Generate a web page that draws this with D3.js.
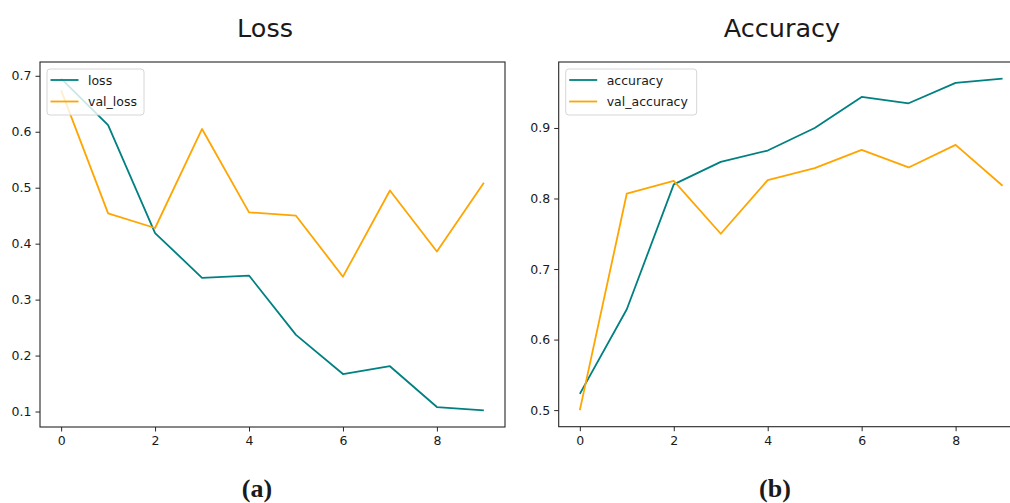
<!DOCTYPE html>
<html>
<head>
<meta charset="utf-8" />
<title>Loss / Accuracy</title>
<style>
    body { margin: 0; background: #fff; }
    svg { display: block; }
    text { font-family: "DejaVu Sans", sans-serif; fill: #1a1a1a; }
</style>
</head>
<body>
<svg width="1010" height="503"></svg>

<script src="https://cdn.jsdelivr.net/npm/d3@7"></script>
<script>

    // epochs and the four training curves
    var epochs = [0, 1, 2, 3, 4, 5, 6, 7, 8, 9];
    var loss = [0.695, 0.612, 0.419, 0.339, 0.343, 0.237, 0.167, 0.181, 0.108, 0.102];
    var valLoss = [0.674, 0.454, 0.428, 0.605, 0.456, 0.450, 0.341, 0.495, 0.386, 0.509];
    var accuracy = [0.523, 0.643, 0.820, 0.852, 0.868, 0.900, 0.944, 0.935, 0.964, 0.970];
    var valAccuracy = [0.500, 0.807, 0.825, 0.750, 0.826, 0.843, 0.869, 0.844, 0.876, 0.818];

    var xTicks = [0, 2, 4, 6, 8];
    var lossTicks = [0.1, 0.2, 0.3, 0.4, 0.5, 0.6, 0.7];
    var accTicks = [0.5, 0.6, 0.7, 0.8, 0.9];

    var svg = d3.select('svg');

    // matplotlib style 5% padding around the data
    function padded(values) {
        var ext = d3.extent(values);
        var m = (ext[1] - ext[0]) * 0.05;
        return [ext[0] - m, ext[1] + m];
    }

    function panel(opts) {
        var g = svg.append('g');

        var x = d3.scaleLinear()
            .domain(padded(epochs))
            .range([opts.left, opts.right]);
        var y = d3.scaleLinear()
            .domain(padded(opts.series[0].values.concat(opts.series[1].values)))
            .range([opts.bottom, opts.top]);

        // frame
        g.append('rect')
            .attr('x', opts.left)
            .attr('y', opts.top)
            .attr('width', opts.right - opts.left)
            .attr('height', opts.bottom - opts.top)
            .attr('fill', 'none')
            .attr('stroke', '#262626')
            .attr('stroke-width', 1.1);

        var xAxis = g.append('g')
            .attr('transform', 'translate(0,' + opts.bottom + ')')
            .call(d3.axisBottom(x).tickValues(xTicks).tickSize(4.5).tickPadding(5));
        var yAxis = g.append('g')
            .attr('transform', 'translate(' + opts.left + ',0)')
            .call(d3.axisLeft(y).tickValues(opts.ticks).tickSize(4.5).tickPadding(4)
                .tickFormat(d3.format('.1f')));

        [xAxis, yAxis].forEach(function (a) {
            a.select('.domain').remove();
            a.selectAll('line').attr('stroke', '#262626').attr('stroke-width', 1);
            a.selectAll('text')
                .style('font-family', '"DejaVu Sans", sans-serif')
                .style('font-size', '12.5px')
                .attr('fill', '#1a1a1a');
        });

        var line = d3.line()
            .x(function (d, i) { return x(epochs[i]); })
            .y(function (d) { return y(d); });

        opts.series.forEach(function (s) {
            g.append('path')
                .datum(s.values)
                .attr('d', line)
                .attr('fill', 'none')
                .attr('stroke', s.color)
                .attr('stroke-width', 1.8)
                .attr('stroke-linejoin', 'round');
        });

        // legend
        var lg = g.append('g').attr('transform', 'translate(' + (opts.left + 7) + ',' + (opts.top + 7) + ')');
        lg.append('rect')
            .attr('width', opts.legendWidth)
            .attr('height', 46)
            .attr('rx', 3)
            .attr('fill', 'rgba(255,255,255,0.8)')
            .attr('stroke', '#d6d6d6')
            .attr('stroke-width', 1);
        opts.series.forEach(function (s, i) {
            var cy = 11 + i * 21.5;
            lg.append('line')
                .attr('x1', 3.5).attr('x2', 31.5)
                .attr('y1', cy).attr('y2', cy)
                .attr('stroke', s.color)
                .attr('stroke-width', 1.8);
            lg.append('text')
                .attr('x', 41)
                .attr('y', cy + 4.5)
                .style('font-size', '12.5px')
                .text(s.name);
        });

        svg.append('text')
            .attr('x', opts.titleX)
            .attr('y', 36.5)
            .attr('text-anchor', 'middle')
            .style('font-size', '25.5px')
            .text(opts.title);

        svg.append('text')
            .attr('x', opts.captionX)
            .attr('y', 497)
            .attr('text-anchor', 'middle')
            .style('font-family', '"Liberation Serif", "Times New Roman", serif')
            .style('font-weight', 'bold')
            .style('font-size', '26px')
            .attr('fill', '#000')
            .text(opts.caption);
    }

    panel({
        left: 40, right: 505, top: 62, bottom: 427,
        ticks: lossTicks,
        title: 'Loss', titleX: 265,
        caption: '(a)', captionX: 257,
        legendWidth: 97,
        series: [
            { name: 'loss', values: loss, color: 'teal' },
            { name: 'val_loss', values: valLoss, color: 'orange' }
        ]
    });

    panel({
        left: 558.7, right: 1023.7, top: 62, bottom: 426.7,
        ticks: accTicks,
        title: 'Accuracy', titleX: 782,
        caption: '(b)', captionX: 775,
        legendWidth: 131,
        series: [
            { name: 'accuracy', values: accuracy, color: 'teal' },
            { name: 'val_accuracy', values: valAccuracy, color: 'orange' }
        ]
    });
</script>
</body>
</html>
